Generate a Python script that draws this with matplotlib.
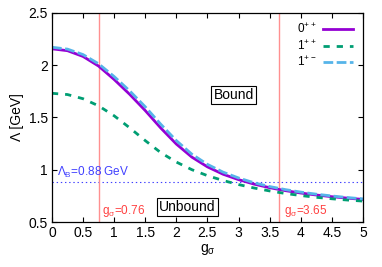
import matplotlib
matplotlib.use('Agg')
import matplotlib.pyplot as plt
from matplotlib import rcParams

rcParams['font.family'] = ['Liberation Sans', 'DejaVu Sans']
rcParams['mathtext.default'] = 'regular'
rcParams['lines.scale_dashes'] = False

# coupling g_sigma and cutoff Lambda [GeV]
g = [0.0, 0.25, 0.5, 0.75, 1.0, 1.25, 1.5, 1.75, 2.0, 2.25, 2.5,
     2.75, 3.0, 3.25, 3.5, 3.75, 4.0, 4.25, 4.5, 4.75, 5.0]
lam_0pp = [2.155, 2.137, 2.082, 1.990, 1.862, 1.720, 1.565, 1.398, 1.245, 1.120, 1.027,
           0.957, 0.905, 0.862, 0.828, 0.800, 0.777, 0.758, 0.742, 0.728, 0.716]
lam_1pp = [1.730, 1.718, 1.678, 1.610, 1.515, 1.400, 1.278, 1.163, 1.073, 1.000, 0.943,
           0.897, 0.858, 0.825, 0.797, 0.773, 0.753, 0.736, 0.722, 0.710, 0.700]
lam_1pm = [2.170, 2.152, 2.100, 2.012, 1.890, 1.753, 1.601, 1.434, 1.278, 1.148, 1.051,
           0.977, 0.921, 0.875, 0.839, 0.810, 0.786, 0.766, 0.749, 0.734, 0.721]

lam_B = 0.88
g_lo = 0.76
g_hi = 3.65

fig = plt.figure(figsize=(3.82, 2.67), dpi=100)
ax = fig.add_axes([0.136, 0.1685, 0.814, 0.7839])

ax.axhline(lam_B, color='#4040ff', lw=0.8, ls=(0, (1, 2)))
ax.axvline(g_lo, color='#ff9090', lw=1.0)
ax.axvline(g_hi, color='#ff9090', lw=1.0)

l1, = ax.plot(g, lam_0pp, color='#9400d3', lw=2.0)
l2, = ax.plot(g, lam_1pp, color='#009e73', lw=2.0, ls=(0, (4.5, 5)))
l3, = ax.plot(g, lam_1pm, color='#56b4e9', lw=2.0, ls=(0, (7, 2.5)))

ax.set_xlim(0, 5)
ax.set_ylim(0.5, 2.5)
ax.set_xticks([0, 0.5, 1, 1.5, 2, 2.5, 3, 3.5, 4, 4.5, 5])
ax.set_xticklabels(['0', '0.5', '1', '1.5', '2', '2.5', '3', '3.5', '4', '4.5', '5'])
ax.set_yticks([0.5, 1, 1.5, 2, 2.5])
ax.set_yticklabels(['0.5', '1', '1.5', '2', '2.5'])
ax.tick_params(direction='in', top=True, right=True, length=3.5, width=0.8,
               labelsize=10, pad=3)
for s in ax.spines.values():
    s.set_linewidth(0.9)

ax.set_xlabel(r'g$_{σ}$', fontsize=10, labelpad=1)
ax.set_ylabel('Λ [GeV]', fontsize=10, labelpad=3)

ax.text(0.08, lam_B + 0.025, r'Λ$_{B}$=0.88 GeV', color='#4040ff', fontsize=8.5,
        va='bottom', ha='left')
ax.text(g_lo + 0.04, 0.53, r'g$_{σ}$=0.76', color='#ff4040', fontsize=8.5,
        va='bottom', ha='left')
ax.text(g_hi + 0.08, 0.53, r'g$_{σ}$=3.65', color='#ff4040', fontsize=8.5,
        va='bottom', ha='left')

box = dict(boxstyle='square,pad=0.15', fc='white', ec='black', lw=0.8)
ax.text(2.92, 1.71, 'Bound', fontsize=10, ha='center', va='center', bbox=box)
ax.text(2.18, 0.64, 'Unbound', fontsize=10, ha='center', va='center', bbox=box)

leg = ax.legend([l1, l2, l3], [r'0$^{++}$', r'1$^{++}$', r'1$^{+-}$'],
                loc='upper right', frameon=False, fontsize=8.5,
                markerfirst=False, handlelength=2.6, handletextpad=0.5,
                labelspacing=0.25, borderaxespad=0.4)
for t in leg.get_texts():
    t.set_ha('right')

fig.savefig('out.png', dpi=100)
